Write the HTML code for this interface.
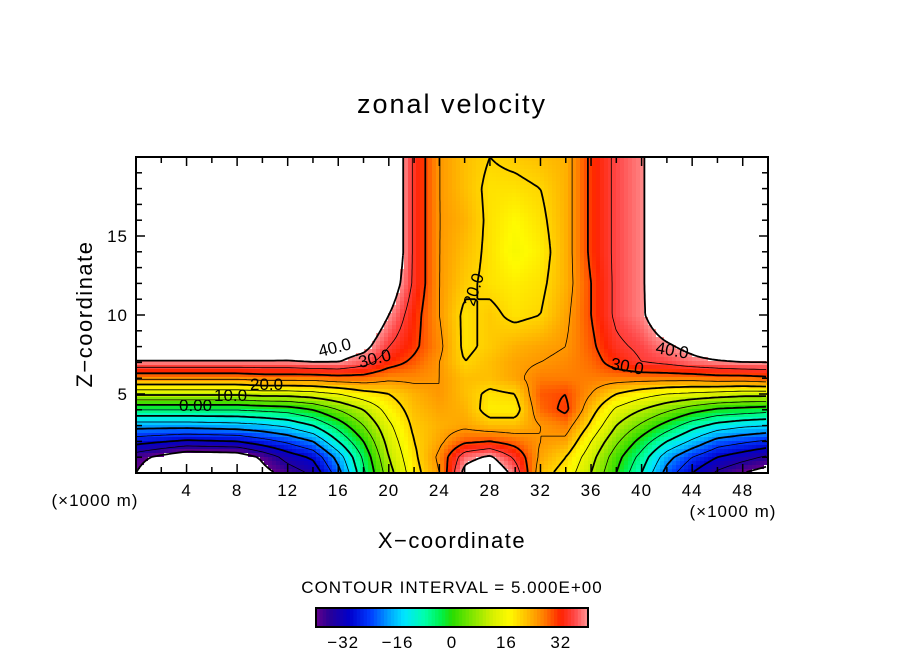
<!DOCTYPE html>
<html><head><meta charset="utf-8">
<style>
html,body{margin:0;padding:0;background:#fff;}
svg text{font-family:"Liberation Sans",sans-serif;fill:#000;}
</style></head>
<body>
<svg id="chart" width="904" height="654" viewBox="0 0 904 654" xmlns="http://www.w3.org/2000/svg">
<rect x="0" y="0" width="904" height="654" fill="#fff"/>
<text x="452" y="113" font-size="27" letter-spacing="2" text-anchor="middle">zonal velocity</text>
<g id="heat"></g>
<g id="contours"></g>
<g id="labels" font-size="17">
<text x="320" y="357" transform="rotate(-14 320 357)">40.0</text>
<text x="360" y="368" transform="rotate(-14 360 368)">30.0</text>
<text x="250" y="390">20.0</text>
<text x="214" y="401">10.0</text>
<text x="179" y="411">0.00</text>
<text x="474" y="307" transform="rotate(-72 474 307)">20.0</text>
<text x="610" y="369" transform="rotate(10 610 369)">30.0</text>
<text x="655" y="353" transform="rotate(10 655 353)">40.0</text>
</g>
<g id="axes"></g>
<text x="95" y="506" font-size="17" letter-spacing="1" text-anchor="middle">(×1000 m)</text>
<text x="733" y="517" font-size="17" letter-spacing="1" text-anchor="middle">(×1000 m)</text>
<text x="452" y="548" font-size="22" letter-spacing="1.5" text-anchor="middle">X−coordinate</text>
<text x="92" y="314" font-size="22" letter-spacing="1.5" text-anchor="middle" transform="rotate(-90 92 314)">Z−coordinate</text>
<text x="452" y="593" font-size="17" letter-spacing="1" text-anchor="middle">CONTOUR INTERVAL = 5.000E+00</text>
<g id="cbar"></g>
</svg>
<script>
// ---- data ----
const xLevels = [0,4,8,10,12,14,16,18,20,22,24,26,28,30,32,34,36,38,40,42,44,46,48,50];
const zLevels = [0,1,2,3,4,5,6,7,8,10,12,14,16,18,20];
// rows per z level, columns per x level
const uValues = [
/*z0*/ [-40,-52,-50,-42,-38,-34,-22,-6,8,18,25,42,46,38,22,18,10,0,-10,-22,-30,-36,-40,-43],
/*z1*/ [-38,-45,-44,-39,-33,-29,-18,-4,10,19,26,38,41,34,24,20,12,2,-7,-18,-25,-30,-33,-36],
/*z2*/ [-28,-31,-30,-27,-24,-20,-10,0,12,20,24,29,30,28,25,24,15,6,-2,-10,-16,-22,-24,-26],
/*z3*/ [-18,-18,-17,-16,-14,-10,-3,5,14,21,23,24,22,22,25,27,19,10,4,-2,-8,-12,-14,-15],
/*z4*/ [-5,-5,-5,-4,-3,0,5,10,17,22,24,23,18,18,28,31,22,14,10,6,2,-1,-2,-3],
/*z5*/ [11,11,11,12,12,13,15,18,20,23,25,22,19,20,29,30,25,20,17,15,14,13,12,12],
/*z6*/ [26,26,26,27,27,27,28,28,26,26,25,22,22,24,27,27,27,27,27,27,27,28,28,29],
/*z7*/ [39,39,39,39,39,40,40,37,32,29,25,20,22,24,25,26,28,32,35,36,38,39,40,40],
/*z8*/ [48,48,48,48,47,46,44,42,35,31,26,19,21,23,24,25,29,34,36,39,42,46,47,48],
/*z10*/[50,50,50,50,50,50,50,48,40,32,25,19,21,19,20,24,30,36,39,46,48,50,50,50],
/*z12*/[50,50,50,50,50,50,50,50,45,34,25,21,19,18,19,23,30,36,39,48,50,50,50,50],
/*z14*/[50,50,50,50,50,50,50,50,48,34,25,22,19,16,18,23,31,36,39,48,50,50,50,50],
/*z16*/[50,50,50,50,50,50,50,50,48,34,25,23,19,17,19,23,31,36,39,48,50,50,50,50],
/*z18*/[50,50,50,50,50,50,50,50,48,34,25,22,19,19,20,23,31,36,39,48,50,50,50,50],
/*z20*/[50,50,50,50,50,50,50,50,48,34,25,22,20,21,22,23,31,36,39,48,50,50,50,50]
];
const xTickLabels = [4,8,12,16,20,24,28,32,36,40,44,48];
const zTickLabels = [5,10,15];
const cbarTickLabels = [-32,-16,0,16,32];
const contourLevels = [-40,-35,-30,-25,-20,-15,-10,-5,0,5,10,15,20,25,30,35,40];

// ---- geometry ----
const PL=136, PT=157, PR=768, PB=473;
const XMIN=0, XMAX=50, ZMIN=0, ZMAX=20;
const X = x => PL + (x-XMIN)/(XMAX-XMIN)*(PR-PL);
const Z = z => PB - (z-ZMIN)/(ZMAX-ZMIN)*(PB-PT);
const invX = px => XMIN + (px-PL)/(PR-PL)*(XMAX-XMIN);
const invZ = py => ZMIN + (PB-py)/(PB-PT)*(ZMAX-ZMIN);
const NS='http://www.w3.org/2000/svg';

function idx(arr,v){ let i=0; while(i<arr.length-2 && v>arr[i+1]) i++; return i; }
function field(x,z){
  const i=idx(xLevels,x), j=idx(zLevels,z);
  const tx=Math.min(1,Math.max(0,(x-xLevels[i])/(xLevels[i+1]-xLevels[i])));
  const tz=Math.min(1,Math.max(0,(z-zLevels[j])/(zLevels[j+1]-zLevels[j])));
  const a=uValues[j][i], b=uValues[j][i+1], c=uValues[j+1][i], d=uValues[j+1][i+1];
  return (a*(1-tx)+b*tx)*(1-tz)+(c*(1-tx)+d*tx)*tz;
}
const stops=[[-40,[100,0,140]],[-36,[40,0,150]],[-30,[0,0,205]],[-24,[0,60,255]],[-18,[0,170,255]],[-14,[0,230,255]],[-8,[0,255,170]],[-3,[0,240,70]],[0,[40,220,0]],[6,[130,230,0]],[12,[215,240,0]],[17,[255,250,0]],[22,[255,190,0]],[27,[255,125,0]],[32,[255,35,0]],[36,[255,70,70]],[40,[255,150,150]]];
function color(v){
  if(v<-40||v>40) return '#ffffff';
  for(let k=0;k<stops.length-1;k++){
    if(v<=stops[k+1][0]){
      const t=(v-stops[k][0])/(stops[k+1][0]-stops[k][0]);
      const c=stops[k][1].map((q,m)=>Math.round(q+(stops[k+1][1][m]-q)*t));
      return 'rgb('+c.join(',')+')';
    }
  }
  return '#ffffff';
}

// ---- heatmap ----
const heat=document.getElementById('heat');
const CS=4;
for(let py=PT; py<PB; py+=CS){
  for(let px=PL; px<PR; px+=CS){
    const w=Math.min(CS,PR-px), h=Math.min(CS,PB-py);
    const v=field(invX(px+w/2), invZ(py+h/2));
    const r=document.createElementNS(NS,'rect');
    r.setAttribute('x',px); r.setAttribute('y',py);
    r.setAttribute('width',w+0.3); r.setAttribute('height',h+0.3);
    r.setAttribute('fill',color(v));
    
    
    heat.appendChild(r);
  }
}

// ---- contours (marching squares) ----
const cont=document.getElementById('contours');
const GS=3;
const nx=Math.floor((PR-PL)/GS)+1, ny=Math.floor((PB-PT)/GS)+1;
const G=[];
for(let j=0;j<ny;j++){ const row=[]; for(let i=0;i<nx;i++){ row.push(field(invX(PL+i*GS), invZ(PT+j*GS))); } G.push(row); }
contourLevels.forEach(L=>{
  let d='';
  for(let j=0;j<ny-1;j++) for(let i=0;i<nx-1;i++){
    const v0=G[j][i], v1=G[j][i+1], v2=G[j+1][i+1], v3=G[j+1][i];
    const x0=PL+i*GS, y0=PT+j*GS;
    const pts=[];
    const edge=(va,vb,xa,ya,xb,yb)=>{ if((va<L)!==(vb<L)){ const t=(L-va)/(vb-va); pts.push([xa+(xb-xa)*t, ya+(yb-ya)*t]); } };
    edge(v0,v1,x0,y0,x0+GS,y0);
    edge(v1,v2,x0+GS,y0,x0+GS,y0+GS);
    edge(v3,v2,x0,y0+GS,x0+GS,y0+GS);
    edge(v0,v3,x0,y0,x0,y0+GS);
    for(let k=0;k+1<pts.length;k+=2){
      d+='M'+pts[k][0].toFixed(1)+' '+pts[k][1].toFixed(1)+'L'+pts[k+1][0].toFixed(1)+' '+pts[k+1][1].toFixed(1);
    }
  }
  if(!d) return;
  const p=document.createElementNS(NS,'path');
  p.setAttribute('d',d);
  p.setAttribute('fill','none');
  p.setAttribute('stroke','#000');
  p.setAttribute('stroke-width', (L%10===0)?1.8:0.8);
  if(L<0) p.setAttribute('stroke-dasharray','5,3');
  
  
  cont.appendChild(p);
});

// ---- axes ----
const ax=document.getElementById('axes');
function line(x1,y1,x2,y2,w,name){
  const l=document.createElementNS(NS,'line');
  l.setAttribute('x1',x1);l.setAttribute('y1',y1);l.setAttribute('x2',x2);l.setAttribute('y2',y2);
  l.setAttribute('stroke','#000');l.setAttribute('stroke-width',w);
  
  
  ax.appendChild(l);
}
function txt(parent,x,y,s,size,name){
  const t=document.createElementNS(NS,'text');
  t.setAttribute('x',x);t.setAttribute('y',y);t.setAttribute('font-size',size);t.setAttribute('text-anchor','middle');
  t.setAttribute('letter-spacing','1');
  t.textContent=s;
  
  
  parent.appendChild(t);
}
const fr=document.createElementNS(NS,'rect');
fr.setAttribute('x',PL);fr.setAttribute('y',PT);fr.setAttribute('width',PR-PL);fr.setAttribute('height',PB-PT);
fr.setAttribute('fill','none');fr.setAttribute('stroke','#000');fr.setAttribute('stroke-width',2);


ax.appendChild(fr);
for(let x=2;x<50;x+=2){
  const len=(x%4===0)?9:6;
  line(X(x),PB,X(x),PB-len,1.5,'x-tick');
  line(X(x),PT,X(x),PT+len,1.5,'x-tick-top');
}
for(let z=1;z<20;z++){
  const len=(z%5===0)?9:6;
  line(PL,Z(z),PL+len,Z(z),1.5,'z-tick');
  line(PR,Z(z),PR-len,Z(z),1.5,'z-tick-right');
}
xTickLabels.forEach(v=>txt(ax,X(v),496,String(v),17,'x-tick-label'));
zTickLabels.forEach(v=>{ const t=document.createElementNS(NS,'text'); t.setAttribute('x',PL-8); t.setAttribute('y',Z(v)+6); t.setAttribute('font-size',17); t.setAttribute('letter-spacing','1'); t.setAttribute('text-anchor','end'); t.textContent=String(v);
  
  
  ax.appendChild(t); });

// ---- colorbar ----
const cb=document.getElementById('cbar');
const CBL=316, CBR=588, CBT=608, CBB=627, CBMIN=-40, CBMAX=40;
const CX=v=>CBL+(v-CBMIN)/(CBMAX-CBMIN)*(CBR-CBL);
for(let v=CBMIN; v<CBMAX; v+=1){
  const r=document.createElementNS(NS,'rect');
  r.setAttribute('x',CX(v)); r.setAttribute('y',CBT); r.setAttribute('width',CX(v+1)-CX(v)+0.4); r.setAttribute('height',CBB-CBT);
  r.setAttribute('fill',color(v+0.5));
  
  
  cb.appendChild(r);
}
const cbf=document.createElementNS(NS,'rect');
cbf.setAttribute('x',CBL);cbf.setAttribute('y',CBT);cbf.setAttribute('width',CBR-CBL);cbf.setAttribute('height',CBB-CBT);
cbf.setAttribute('fill','none');cbf.setAttribute('stroke','#000');cbf.setAttribute('stroke-width',2);


cb.appendChild(cbf);
cbarTickLabels.forEach(v=>txt(cb,CX(v),648,String(v).replace('-','−'),17,'colorbar-tick-label'));
</script>
</body></html>
